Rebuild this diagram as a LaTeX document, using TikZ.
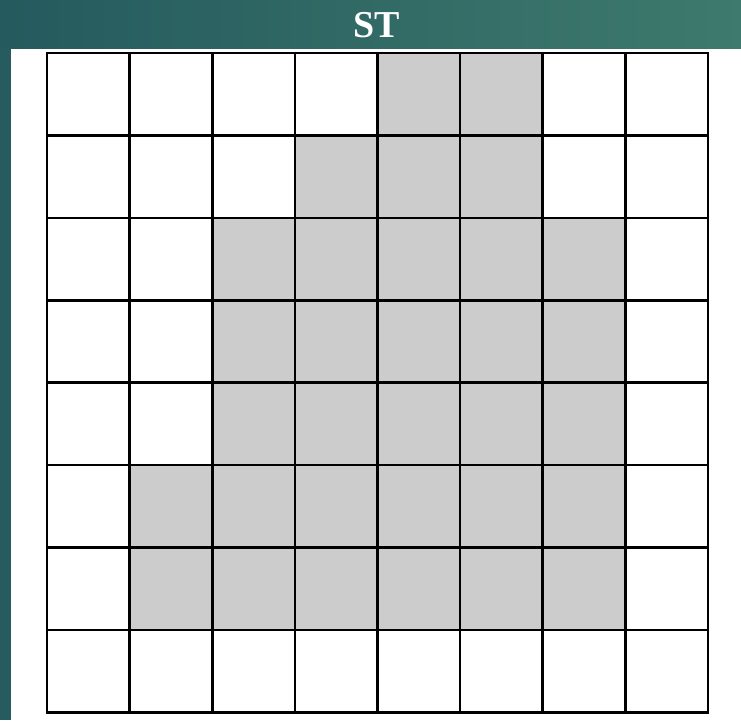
\documentclass[tikz,border=0pt]{standalone}
\usepackage{fontspec}
\setmainfont{Liberation Serif}
\definecolor{bardark}{HTML}{255A5E}
\definecolor{barlight}{HTML}{3E7A6D}
\definecolor{cellgray}{HTML}{CCCCCC}
\begin{document}
\begin{tikzpicture}[x=1pt, y=-1pt, line width=2.6pt, line cap=rect]
\useasboundingbox (0, 0) rectangle (741, 720);
\fill[white] (0, 0) rectangle (741, 720);
\shade[left color=bardark, right color=barlight] (0, 0) rectangle (741, 48);
\fill[bardark!95!barlight] (0, 48) rectangle (11, 720);
\node[text=white, font=\fontsize{38}{40}\selectfont\bfseries] (title) at (377, 25) {ST};
\begin{scope}[shift={(47, 53)}, x=82.6pt, y=-82.4pt]
\foreach \r/\cols in {0/{4,5}, 1/{3,4,5}, 2/{2,...,6}, 3/{2,...,6}, 4/{2,...,6}, 5/{1,...,6}, 6/{1,...,6}}
  \foreach \c in \cols
    \fill[cellgray] (\c, \r) rectangle (\c+1, \r+1);
\foreach \i in {0,...,8} {
  \draw (\i, 0) -- (\i, 8);
  \draw (0, \i) -- (8, \i);
}
\end{scope}
\end{tikzpicture}
\end{document}
